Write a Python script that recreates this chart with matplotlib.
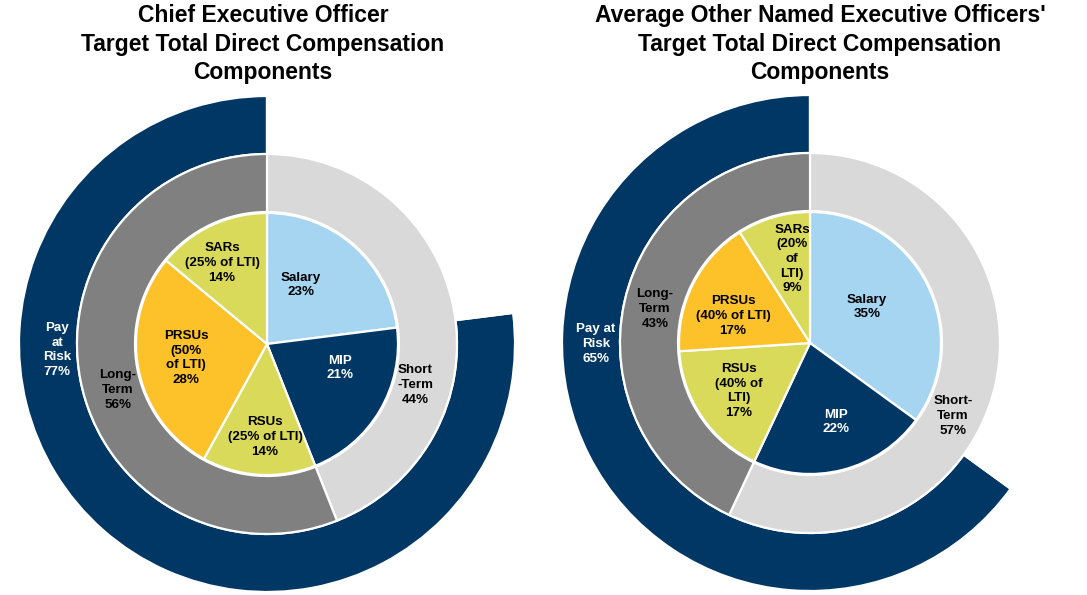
import matplotlib.pyplot as plt

plt.rcParams['font.family'] = ['Liberation Sans', 'DejaVu Sans']

# data
ceo_risk = [77, 23]
ceo_term = [44, 56]
ceo_parts = [23, 21, 14, 28, 14]
ceo_term_labels = ['Short\n-Term\n44%', 'Long-\nTerm\n56%']
ceo_part_labels = ['Salary\n23%', 'MIP\n21%', 'RSUs\n(25% of LTI)\n14%',
                   'PRSUs\n(50%\nof LTI)\n28%', 'SARs\n(25% of LTI)\n14%']

neo_risk = [65, 35]
neo_term = [57, 43]
neo_parts = [35, 22, 17, 17, 9]
neo_term_labels = ['Short-\nTerm\n57%', 'Long-\nTerm\n43%']
neo_part_labels = ['Salary\n35%', 'MIP\n22%', 'RSUs\n(40% of\nLTI)\n17%',
                   'PRSUs\n(40% of LTI)\n17%', 'SARs\n(20%\nof\nLTI)\n9%']

titles = ['Chief Executive Officer\nTarget Total Direct Compensation\nComponents',
          "Average Other Named Executive Officers'\nTarget Total Direct Compensation\nComponents"]

navy = '#003764'
lgray = '#D9D9D9'
dgray = '#808080'
blue = '#A6D5F2'
lime = '#DADA5A'
gold = '#FDC12A'

W, H = 1087, 595
fig = plt.figure(figsize=(W / 100, H / 100), dpi=100)
ax = fig.add_axes([0, 0, 1, 1])

wp = dict(edgecolor='white', linewidth=1.6)


def donut(cx, cy, risk, term, parts):
    ax.pie(risk, colors=[navy, 'none'], radius=248, center=(cx, cy),
           startangle=90, counterclock=True,
           wedgeprops=dict(width=58, **wp))
    ax.pie(term, colors=[lgray, dgray], radius=190, center=(cx, cy),
           startangle=90, counterclock=False,
           wedgeprops=dict(width=58, **wp))
    ax.pie(parts, colors=[blue, navy, lime, gold, lime], radius=131,
           center=(cx, cy), startangle=90, counterclock=False,
           wedgeprops=wp)


donut(267, H - 344, ceo_risk, ceo_term, ceo_parts)
donut(810, H - 343, neo_risk, neo_term, neo_parts)
ax.set_xlim(0, W)
ax.set_ylim(0, H)
ax.set_aspect('equal')
ax.axis('off')

tk = dict(ha='center', va='center', fontsize=9.6, fontweight='bold',
          linespacing=1.3)

# left chart labels
ax.text(57, H - 350, 'Pay\nat\nRisk\n77%', color='white', **tk)
ax.text(415, H - 385, ceo_term_labels[0], color='black', **tk)
ax.text(118, H - 390, ceo_term_labels[1], color='black', **tk)
left_pos = [(301, 285), (340, 368), (265, 437), (186, 358), (222, 263)]
for lab, (x, y), c in zip(ceo_part_labels, left_pos,
                          ['black', 'white', 'black', 'black', 'black']):
    ax.text(x, H - y, lab, color=c, **tk)

# right chart labels
ax.text(596, H - 344, 'Pay at\nRisk\n65%', color='white', **tk)
ax.text(953, H - 416, neo_term_labels[0], color='black', **tk)
ax.text(655, H - 309, neo_term_labels[1], color='black', **tk)
right_pos = [(867, 307), (836, 422), (739, 391), (733, 316), (792, 259)]
for lab, (x, y), c in zip(neo_part_labels, right_pos,
                          ['black', 'white', 'black', 'black', 'black']):
    ax.text(x, H - y, lab, color=c, **tk)

ax.text(263, H - 44, titles[0], ha='center', va='center', fontsize=16.5,
        fontweight='bold', linespacing=1.32)
ax.text(820, H - 44, titles[1], ha='center', va='center', fontsize=16.5,
        fontweight='bold', linespacing=1.32)

fig.savefig('out.png', dpi=100)
